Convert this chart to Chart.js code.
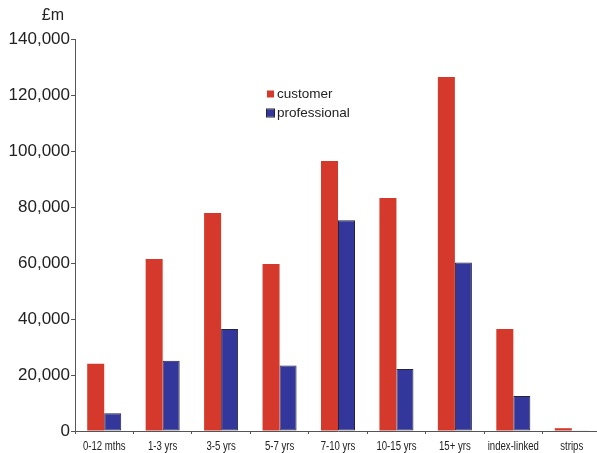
<!DOCTYPE html>
<html lang="en">
  <head>
    <meta charset="UTF-8" />
    <title>Customer and professional holdings by maturity</title>
    <script src="https://cdn.jsdelivr.net/npm/chart.js"></script>
    <style>
      html, body {
        margin: 0;
        padding: 0;
        background: #fff;
        overflow: hidden;
      }
      #chart-container {
        position: relative;
        width: 601px;
        height: 453px;
      }
    </style>
  </head>
  <body>
    <div id="chart-container">
      <canvas id="holdingsChart"></canvas>
    </div>
    <script>
      // categories and values (£m)
      const categories = [
        "0-12 mths", "1-3 yrs", "3-5 yrs", "5-7 yrs", "7-10 yrs",
        "10-15 yrs", "15+ yrs", "index-linked", "strips"
      ];
      const customer = [24000, 61400, 77900, 59600, 96400, 83200, 126400, 36400, 1000];
      const professional = [6300, 25100, 36400, 23400, 75300, 22100, 60200, 12500, 300];
      const yTicks = [0, 20000, 40000, 60000, 80000, 100000, 120000, 140000];
      const unitLabel = "£m";

      const RED = "#d5392c";
      const BLUE = "#33369a";
      const EDGE = "#23233a";
      const AXIS = "#555";

      // "£m" above the y labels, narrow category labels, legend inside the plot
      const extras = {
        id: "extras",
        afterDraw(chart) {
          const c = chart.ctx;
          const area = chart.chartArea;
          const x = chart.scales.x;
          const y = chart.scales.y;
          c.save();
          c.fillStyle = "#222";
          c.font = "16px 'Liberation Sans', Arial, sans-serif";
          c.textAlign = "right";
          c.textBaseline = "middle";
          c.fillText(unitLabel, y.right - 11, 16);

          // category labels, squeezed like the condensed face of the original
          c.font = "12px 'Liberation Sans', Arial, sans-serif";
          c.textAlign = "center";
          c.textBaseline = "alphabetic";
          chart.data.labels.forEach(function (lab, i) {
            c.save();
            c.translate(x.getPixelForTick(i), area.bottom + 19);
            c.scale(0.8, 1);
            c.fillText(lab, 0, 0);
            c.restore();
          });

          c.font = "13.5px 'Liberation Sans', Arial, sans-serif";
          c.textAlign = "left";
          c.textBaseline = "middle";
          const lx = area.left + 192;
          chart.data.datasets.forEach(function (ds, i) {
            const ly = 94 + i * 19;
            c.fillStyle = ds.backgroundColor;
            c.fillRect(lx, ly - 3.5, 7, 7);
            if (ds.borderWidth) {
              c.strokeStyle = ds.borderColor;
              c.lineWidth = 1;
              c.strokeRect(lx - 0.5, ly - 4, 8, 8);
            }
            c.fillStyle = "#222";
            c.fillText(ds.label, lx + 10, ly);
          });
          c.restore();
        },
      };

      const ctx = document.getElementById("holdingsChart").getContext("2d");
      new Chart(ctx, {
        type: "bar",
        data: {
          labels: categories,
          datasets: [
            {
              label: "customer",
              data: customer,
              backgroundColor: RED,
              borderWidth: 0,
            },
            {
              label: "professional",
              data: professional,
              backgroundColor: BLUE,
              borderColor: EDGE,
              borderWidth: 1,
              borderSkipped: false,
            },
          ],
        },
        options: {
          responsive: true,
          maintainAspectRatio: false,
          animation: false,
          layout: { padding: { top: 39, left: 0, right: 0, bottom: 0 } },
          datasets: {
            bar: { categoryPercentage: 0.582, barPercentage: 1.0 },
          },
          plugins: {
            legend: { display: false },
            tooltip: { enabled: false },
          },
          scales: {
            x: {
              grid: {
                offset: true,
                drawOnChartArea: false,
                drawTicks: true,
                tickLength: 3,
                color: AXIS,
              },
              border: { color: AXIS, width: 1 },
              ticks: { display: false, autoSkip: false },
              afterFit(scale) {
                scale.height = 22;
              },
            },
            y: {
              min: 0,
              max: 140000,
              afterBuildTicks(scale) {
                scale.ticks = yTicks.map(function (v) { return { value: v }; });
              },
              grid: {
                drawOnChartArea: false,
                drawTicks: true,
                tickLength: 4,
                color: AXIS,
              },
              border: { color: AXIS, width: 1 },
              ticks: {
                color: "#222",
                padding: 1,
                font: { family: "'Liberation Sans', Arial, sans-serif", size: 17 },
                callback: function (v) {
                  return v.toLocaleString("en-GB");
                },
              },
              afterFit(scale) {
                scale.width = 75;
              },
            },
          },
        },
        plugins: [extras],
      });
    </script>
  </body>
</html>
